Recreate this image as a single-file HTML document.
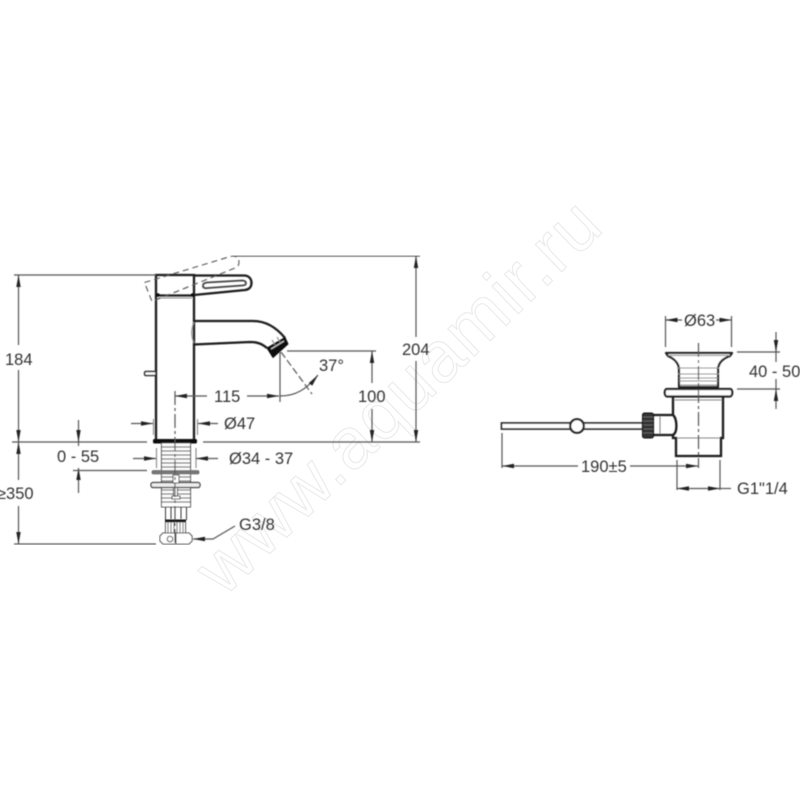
<!DOCTYPE html>
<html><head><meta charset="utf-8"><style>
html,body{margin:0;padding:0;background:#fff;width:800px;height:800px;overflow:hidden}
svg{display:block}
text{font-family:"Liberation Sans",sans-serif;font-size:16.5px;fill:#333}
.d{stroke:#555;stroke-width:1.2;fill:none}
.k{stroke:#1a1a1a;stroke-width:2.3;fill:none}
.t{stroke:#333;stroke-width:1;fill:none}
.g{stroke:#888;stroke-width:1.1;fill:none}
</style></head><body>
<svg width="800" height="800" viewBox="0 0 800 800" xmlns="http://www.w3.org/2000/svg">
<defs>
<marker id="a" viewBox="0 0 12 6" refX="12" refY="3" markerWidth="12" markerHeight="6" markerUnits="userSpaceOnUse" orient="auto-start-reverse"><path d="M0 0.8L12 3L0 5.2z" fill="#222"/></marker>
<filter id="b" x="0" y="0" width="100%" height="100%"><feGaussianBlur stdDeviation="0.45"/></filter>
</defs>
<text transform="translate(224 598) rotate(-44)" textLength="530" lengthAdjust="spacing" style="font-size:72px;fill:#fff;stroke:#ececec;stroke-width:1.2">www.aquamir.ru</text>
<g filter="url(#b)">
<!-- faucet body -->
<path class="k" d="M156 440V275H194V440"/>
<path class="k" d="M156 295.500H194" stroke-width="1.500"/>
<path class="g" d="M158 298H192"/>
<circle cx="158" cy="295" r="1.800" fill="#111"/><circle cx="192.500" cy="295" r="1.800" fill="#111"/>
<rect x="153" y="439" width="44" height="4.500" rx="1.500" fill="#111"/>
<path d="M146 371.500H156V375.500H146C144 375.500 144 371.500 146 371.500Z" fill="#fff" stroke="#222" stroke-width="1.500"/>
<!-- lever -->
<path class="k" d="M194 275.500H244C249 275.500 251.500 279 251.500 283C251.500 287 249 289.500 245 290L194 295"/>
<path d="M203 286C203 283 205 283 207 282.500L242 280.500C245 280.500 246 282 246 283C246 284.500 245 285.500 242 285.500L208 288C205 288.500 203 288 203 286Z" fill="none" stroke="#444" stroke-width="1.800"/>
<path d="M144.500 282.500L232 256C236 255.500 239 258 239 262C239 265 238 267 235 268L152 301.500Z" fill="none" stroke="#555" stroke-width="1.100" stroke-dasharray="6 4"/>
<!-- spout -->
<path class="k" d="M194 321H253C265 321 276 327 285 338"/>
<path class="k" d="M194 344.500L250 342C258 342 262 344 267 348"/>
<path class="g" d="M194 322C191 330 191 336 194 343"/>
<path d="M267 348L285 337.500L288 344L273 357.500Z" fill="#111" stroke="#111" stroke-linejoin="round"/>
<path d="M271 349L284 341" stroke="#ccc" stroke-width="1.200"/>
<path class="g" d="M272 340L275 345M277 337L280 342"/>
<!-- threaded stem -->
<rect x="161.500" y="443" width="29" height="64" fill="#fff" stroke="#444"/>
<path d="M162 447H190M162 451H190M162 455H190M162 459H190M162 463H190M162 467H190M162 477H190M162 481H190M162 490H190M162 494H190M162 498H190M162 502H190" stroke="#777" stroke-width="1.300"/>
<rect x="152" y="470.500" width="47" height="3.500" rx="1.500" fill="#777" stroke="#444" stroke-width=".6"/>
<rect x="151" y="482.500" width="49" height="5" rx="2" fill="#eee" stroke="#222" stroke-width="1.200"/>
<rect x="173" y="475" width="6" height="8" fill="#fff" stroke="#333"/>
<path d="M173.500 488V497H177.500V488" fill="#fff" stroke="#333"/>
<rect x="172" y="496" width="8" height="3" fill="#fff" stroke="#333"/>
<path class="t" d="M165.500 507V520M186.500 507V520M171 507V519M181 507V519"/>
<rect x="165" y="519.500" width="21" height="2" fill="#111"/>
<rect x="165.500" y="522" width="20" height="11" fill="#fff" stroke="#333"/>
<path d="M168 522V533M171 522V533M174 522V533M177 522V533M180 522V533M183 522V533" stroke="#555"/>
<path d="M163 533H189L192 536V541L189 544H163L160 541V536Z" fill="#fff" stroke="#333"/>
<path class="t" d="M176 533V544"/>
<circle cx="170" cy="539" r="2.800" fill="#fff" stroke="#444"/>
<!-- center line -->
<path class="d" d="M175 391V545" stroke-dasharray="14 3 3 3"/>
<!-- left dims -->
<path class="d" d="M14 275H156M12 442H147M203 442H420M14 544H156"/>
<path class="d" d="M18.500 345V275" marker-end="url(#a)"/><path class="d" d="M18.500 370V442" marker-end="url(#a)"/>
<text x="5" y="365">184</text>
<path class="d" d="M18.500 480V442" marker-end="url(#a)"/><path class="d" d="M18.500 506V544" marker-end="url(#a)"/>
<text x="-3" y="499">≥350</text>
<path class="d" d="M78.500 420V442" marker-end="url(#a)"/><path class="d" d="M78.500 493V468" marker-end="url(#a)"/><path class="d" d="M78.500 442V446"/>
<path class="d" d="M73 470.500H147"/>
<text x="57" y="462">0 - 55</text>
<path class="g" d="M153.500 419V435M197.500 419V435M156.500 448V468M196 448V468"/>
<path class="d" d="M131 423.500H153" marker-end="url(#a)"/><path class="d" d="M218 423.500H198" marker-end="url(#a)"/>
<text x="224" y="429">Ø47</text>
<path class="d" d="M133 458.500H156" marker-end="url(#a)"/><path class="d" d="M218 458.500H196" marker-end="url(#a)"/>
<text x="229" y="464">Ø34 - 37</text>
<path class="d" d="M207 396H175" marker-end="url(#a)"/><path class="d" d="M247 396H279" marker-end="url(#a)"/>
<text x="214" y="402">115</text>
<path class="d" d="M280 352V402"/>
<path class="d" d="M287 351H376"/>
<path class="d" d="M281 352L312 394" stroke-dasharray="7 3"/>
<path class="d" d="M280 396C295 396 306 390 318 375" marker-end="url(#a)"/>
<text x="319" y="371">37°</text>
<path class="d" d="M372 383V351" marker-end="url(#a)"/><path class="d" d="M372 409V442" marker-end="url(#a)"/>
<text x="358" y="402">100</text>
<path class="d" d="M232 256H420"/>
<path class="d" d="M416 337V256" marker-end="url(#a)"/><path class="d" d="M416 361V442" marker-end="url(#a)"/>
<text x="402" y="355">204</text>
<path class="d" d="M235 526L213 539H193" marker-end="url(#a)"/>
<text x="239" y="530">G3/8</text>
<!-- drain -->
<path d="M666 353H732L730 356C724 358 719 362 718 368V387H679V368C678 362 673 358 668 356Z" fill="#fff" stroke="#222" stroke-width="2.200" stroke-linejoin="round"/>
<path class="g" d="M668 355.500H730M677 368H719M678 374H719M679 378H718M679 381H718M680 385H717"/>
<path d="M667 389H730C733 389 733 396 730 396.500H667C664 396 664 389 667 389Z" fill="#fff" stroke="#222" stroke-width="2.200"/>
<path class="k" d="M673 397V415M723 397V438H721V456H676V438H673V435"/>
<path class="g" d="M674 400H722M677 438H720"/>
<path class="k" d="M653 415H673C677 418 678 432 673 435H653" stroke-width="1.800"/>
<path class="g" d="M660 416V434"/>
<rect x="642.500" y="413" width="11" height="25" rx="2" fill="#333" stroke="#111"/>
<path d="M643 417H653M643 421H653M643 425H653M643 429H653M643 433H653" stroke="#777" stroke-width=".8"/>
<rect x="501.500" y="423" width="141" height="6" fill="#fff" stroke="#222" stroke-width="1.700"/>
<circle cx="577" cy="426" r="6.800" fill="#fff" stroke="#222" stroke-width="2.200"/>
<path class="d" d="M698.500 343V468" stroke-dasharray="14 3 3 3"/>
<!-- drain dims -->
<path class="d" d="M665.500 316V347M731.500 316V347"/>
<path class="d" d="M682 320H665.500" marker-end="url(#a)"/><path class="d" d="M716 320H731.500" marker-end="url(#a)"/>
<text x="684" y="326">Ø63</text>
<path class="d" d="M737 352H780M737 389H780"/>
<path class="d" d="M776 332V352" marker-end="url(#a)"/><path class="d" d="M776 409V389" marker-end="url(#a)"/><path class="d" d="M776 352V362M776 379V389"/>
<text x="749" y="377">40 - 50</text>
<path class="d" d="M502 433V468"/>
<path class="d" d="M578 466H502" marker-end="url(#a)"/><path class="d" d="M630 466H698" marker-end="url(#a)"/>
<text x="581" y="472">190±5</text>
<path class="d" d="M677 460V490M720 460V490"/>
<path class="d" d="M698 488.500H677" marker-end="url(#a)"/><path class="d" d="M698 488.500H720" marker-end="url(#a)"/><path class="d" d="M720 488.500H731"/>
<text x="737" y="494">G1"1/4</text>
</g>
</svg>
</body></html>
